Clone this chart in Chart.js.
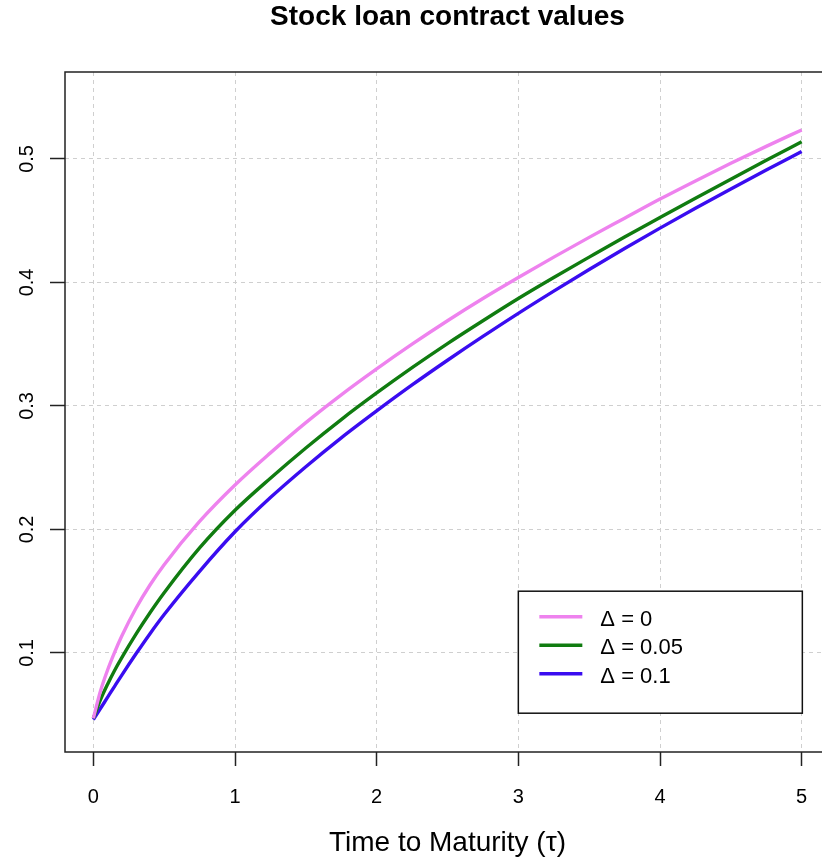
<!DOCTYPE html>
<html><head><meta charset="utf-8">
<script src="https://cdn.jsdelivr.net/npm/chart.js@4"></script>
<style>
html,body{margin:0;padding:0;background:#fff;overflow:hidden;width:822px;height:860px}
#wrap{width:822px;height:860px;overflow:hidden;position:relative}
canvas{display:block}
</style>
</head><body><div id="wrap"><canvas id="c" width="840" height="860"></canvas></div>
<script>
const titleText = 'Stock loan contract values';
const xAxisTitle = 'Time to Maturity (τ)';
const xTicks = [0, 1, 2, 3, 4, 5];
const yTicks = [0.1, 0.2, 0.3, 0.4, 0.5];
const seriesLabels = ['Δ = 0', 'Δ = 0.05', 'Δ = 0.1'];
const tau = [0, 0.05, 0.1, 0.15, 0.2, 0.3, 0.4, 0.5, 0.75, 1, 1.25, 1.5, 1.75, 2, 2.25, 2.5, 2.75, 3, 3.25, 3.5, 3.75, 4, 4.25, 4.5, 4.75, 5];
const valuesD0 = [0.047, 0.069, 0.086, 0.1005, 0.1135, 0.136, 0.155, 0.1715, 0.2065, 0.236, 0.262, 0.2865, 0.309, 0.330, 0.350, 0.369, 0.387, 0.404, 0.4205, 0.4365, 0.452, 0.4675, 0.4822, 0.4965, 0.5102, 0.5235];
const valuesD005 = [0.047, 0.062, 0.0745, 0.0858, 0.096, 0.115, 0.1325, 0.1487, 0.185, 0.2155, 0.2415, 0.266, 0.289, 0.3105, 0.331, 0.3505, 0.369, 0.387, 0.404, 0.4205, 0.4368, 0.4525, 0.4681, 0.4836, 0.4989, 0.5139];
const valuesD01 = [0.046, 0.055, 0.064, 0.073, 0.0819, 0.0991, 0.1156, 0.1311, 0.1661, 0.1981, 0.2258, 0.2508, 0.2742, 0.296, 0.317, 0.337, 0.3563, 0.375, 0.393, 0.4105, 0.4275, 0.444, 0.460, 0.4756, 0.491, 0.506];
const seriesColors = ['#ee82ee', '#107c10', '#3a0cf0'];

const FONT = "'Liberation Sans', Arial, sans-serif";
const allValues = [valuesD0, valuesD005, valuesD01];

const datasets = allValues.map((vals, i) => ({
  label: seriesLabels[i],
  data: tau.map((t, k) => ({x: t, y: vals[k]})),
  borderColor: seriesColors[i],
  backgroundColor: seriesColors[i],
  borderWidth: 3.4,
  pointRadius: 0,
  cubicInterpolationMode: 'monotone',
  fill: false
}));

const framePlugin = {
  id: 'frame',
  afterDraw(chart) {
    const {ctx, chartArea: a, scales} = chart;
    ctx.save();
    ctx.lineWidth = 1.5;
    ctx.strokeStyle = '#222';
    ctx.strokeRect(a.left, a.top, a.right - a.left, a.bottom - a.top);
    ctx.fillStyle = '#000';
    ctx.font = '20px ' + FONT;
    ctx.textAlign = 'center';
    ctx.textBaseline = 'middle';
    yTicks.forEach(v => {
      const y = scales.y.getPixelForValue(v);
      ctx.save();
      ctx.translate(27, y);
      ctx.rotate(-Math.PI / 2);
      ctx.fillText(String(v), 0, 0);
      ctx.restore();
    });
    const lx = scales.x.getPixelForValue(3);
    const ly = scales.y.getPixelForValue(0.15);
    const lw = 284, lh = 122;
    ctx.fillStyle = '#fff';
    ctx.fillRect(lx, ly, lw, lh);
    ctx.lineWidth = 1.5;
    ctx.strokeStyle = '#111';
    ctx.strokeRect(lx, ly, lw, lh);
    ctx.font = '22px ' + FONT;
    ctx.textAlign = 'left';
    chart.data.datasets.forEach((ds, i) => {
      const yy = ly + 25.5 + i * 28.5;
      ctx.strokeStyle = ds.borderColor;
      ctx.lineWidth = 3.4;
      ctx.beginPath();
      ctx.moveTo(lx + 21, yy);
      ctx.lineTo(lx + 64, yy);
      ctx.stroke();
      ctx.fillStyle = '#000';
      ctx.fillText(ds.label, lx + 82, yy + 3);
    });
    ctx.restore();
  }
};

new Chart(document.getElementById('c'), {
  type: 'line',
  data: {datasets},
  options: {
    responsive: false,
    devicePixelRatio: 1,
    animation: false,
    layout: {padding: {left: 0, right: 10, top: 0, bottom: 0}},
    plugins: {
      legend: {display: false},
      tooltip: {enabled: false},
      title: {
        display: true,
        text: titleText,
        fullSize: false,
        color: '#000',
        font: {family: FONT, size: 28, weight: 'bold', lineHeight: 1.2},
        padding: {top: 0.4, bottom: 38}
      }
    },
    scales: {
      x: {
        type: 'linear',
        min: -0.2,
        max: 5.2,
        afterBuildTicks: s => { s.ticks = xTicks.map(v => ({value: v})); },
        afterFit: s => { s.height = 108; },
        border: {display: false, dash: [4, 4]},
        grid: {color: '#cfcfcf', lineWidth: 1, drawTicks: true, tickLength: 14, tickColor: '#222', tickWidth: 1.5},
        ticks: {color: '#000', font: {family: FONT, size: 20}, padding: 19, maxRotation: 0, autoSkip: false,
          callback: v => String(v)},
        title: {display: true, text: xAxisTitle, color: '#000', font: {family: FONT, size: 28}, padding: {top: 0, bottom: 0}}
      },
      y: {
        type: 'linear',
        min: 0.0198,
        max: 0.5704,
        afterBuildTicks: s => { s.ticks = yTicks.map(v => ({value: v})); },
        afterFit: s => { s.width = 65; },
        border: {display: false, dash: [4, 4]},
        grid: {color: '#cfcfcf', lineWidth: 1, drawTicks: true, tickLength: 15, tickColor: '#222', tickWidth: 1.5},
        ticks: {display: false}
      }
    }
  },
  plugins: [framePlugin]
});
</script>
</body></html>
